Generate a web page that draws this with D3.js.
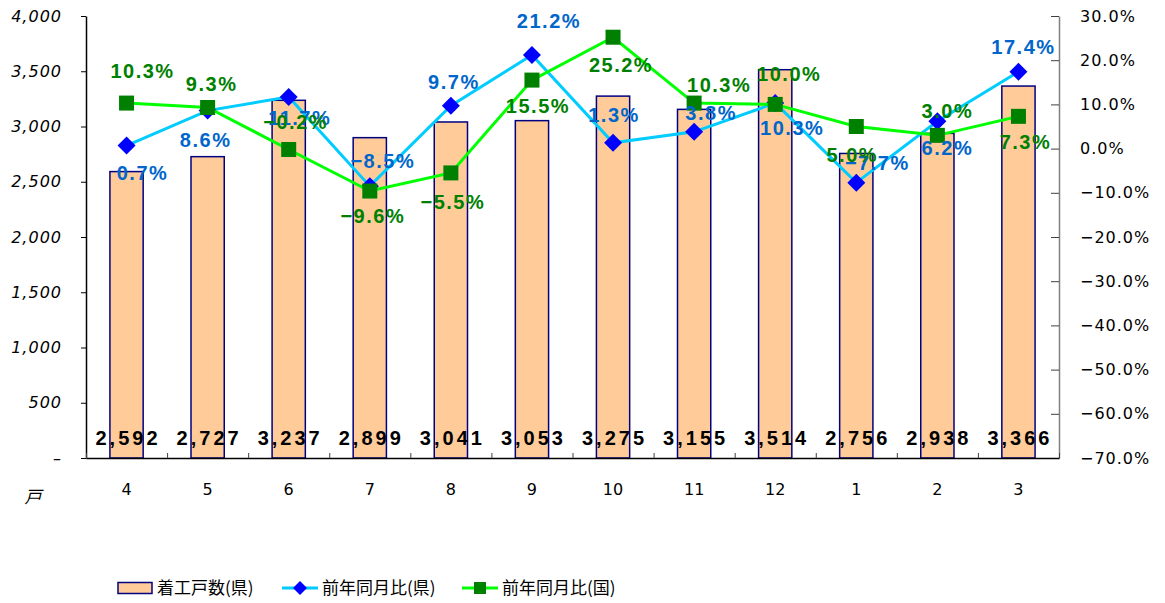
<!DOCTYPE html>
<meta charset="utf-8">
<script src="https://d3js.org/d3.v7.min.js"></script>
<style>
  body { margin: 0; background: #fff; }
</style>
<div id="chart"></div>
<script>
  // data
  const months = ["4", "5", "6", "7", "8", "9", "10", "11", "12", "1", "2", "3"];
  const starts = [2592, 2727, 3237, 2899, 3041, 3053, 3275, 3155, 3514, 2756, 2938, 3366];   // 着工戸数(県)
  const yoyPref = [0.7, 8.6, 11.7, -8.5, 9.7, 21.2, 1.3, 3.8, 10.3, -7.7, 6.2, 17.4];         // 前年同月比(県)
  const yoyNation = [10.3, 9.3, -0.2, -9.6, -5.5, 15.5, 25.2, 10.3, 10.0, 5.0, 3.0, 7.3];     // 前年同月比(国)
  const leftTicks = [0, 500, 1000, 1500, 2000, 2500, 3000, 3500, 4000];
  const rightTicks = [-70, -60, -50, -40, -30, -20, -10, 0, 10, 20, 30];

  // label nudges (dx, dy) so they sit like the original
  const prefLabelPos = [[15,27],[-3,29],[10,21],[12,-25],[2,-24],[16,-34],[0,-28],[16,-19],[16,25],[20,-20],[9,27],[4,-25]];
  const natLabelPos = [[15,-32],[3,-23],[6,-27],[2,25],[1,29],[5,26],[7,28],[24,-18],[13,-30],[-5,28],[9,-24],[6,26]];

  const margin = {top: 16, right: 106, bottom: 145, left: 86},
    width = 1165 - margin.left - margin.right,
    height = 603 - margin.top - margin.bottom;

  const svg = d3.select("#chart")
    .append("svg")
    .attr("width", 1165)
    .attr("height", 603);

  const g = svg.append("g")
    .attr("transform", `translate(${margin.left},${margin.top})`);

  const x = d3.scaleBand()
    .domain(months)
    .range([0, width])
    .paddingInner(0.59)
    .paddingOuter(0.295);

  const yL = d3.scaleLinear().domain([0, 4000]).range([height, 0]);
  const yR = d3.scaleLinear().domain([-70, 30]).range([height, 0]);

  const cx = d => x(d) + x.bandwidth() / 2;
  const labelFont = "'Liberation Sans', Arial, sans-serif";

  // bars
  g.selectAll("rect.bar")
    .data(starts)
    .join("rect")
    .attr("class", "bar")
    .attr("x", (d, i) => x(months[i]))
    .attr("y", d => yL(d))
    .attr("width", x.bandwidth())
    .attr("height", d => height - yL(d))
    .attr("fill", "#FFCC99")
    .attr("stroke", "#000080")
    .attr("stroke-width", 1.5);

  // left axis
  const fmtL = d3.format(",");
  const axL = g.append("g")
    .call(d3.axisLeft(yL).tickValues(leftTicks).tickSize(5).tickSizeOuter(0).tickPadding(19)
      .tickFormat(d => d === 0 ? "–" : fmtL(d)));
  axL.select(".domain").attr("stroke", "#000").attr("stroke-width", 1.5);
  axL.selectAll("text")
    .style("font-family", "'DejaVu Sans', sans-serif")
    .style("font-style", "italic")
    .style("font-size", "16px")
    .style("letter-spacing", "1px")
    .attr("fill", "#000");

  // right axis (ticks point inward)
  const axR = g.append("g")
    .attr("transform", `translate(${width},0)`)
    .call(d3.axisRight(yR).tickValues(rightTicks).tickSize(-8).tickSizeOuter(0).tickPadding(21)
      .tickFormat(d => d3.format(".1f")(d) + "%"));
  axR.select(".domain").attr("stroke", "#808080").attr("stroke-width", 1.5);
  axR.selectAll(".tick line").attr("stroke", "#404040");
  axR.selectAll("text")
    .style("font-family", "'DejaVu Sans', sans-serif")
    .style("font-size", "16px")
    .style("letter-spacing", "1px")
    .attr("fill", "#000");

  // bottom axis: boundary ticks + month labels
  const xEdge = d3.scaleLinear().domain([0, months.length]).range([0, width]);
  const axB = g.append("g")
    .attr("transform", `translate(0,${height})`)
    .call(d3.axisBottom(xEdge).tickValues(d3.range(0, months.length + 1)).tickSize(-5).tickSizeOuter(0).tickFormat(""));
  axB.select(".domain").attr("stroke", "#000").attr("stroke-width", 1.5);
  axB.selectAll(".tick line").attr("stroke", "#404040");

  const axM = g.append("g")
    .attr("transform", `translate(0,${height})`)
    .call(d3.axisBottom(x).tickSize(0).tickPadding(26));
  axM.select(".domain").remove();
  axM.selectAll("text")
    .style("font-family", "'DejaVu Sans', sans-serif")
    .style("font-size", "16px")
    .attr("fill", "#000");

  // unit label
  svg.append("text")
    .attr("x", 33)
    .attr("y", 497)
    .attr("text-anchor", "middle")
    .attr("dy", "0.35em")
    .style("font-family", "'Noto Sans CJK JP', sans-serif")
    .style("font-style", "italic")
    .style("font-size", "17px")
    .text("戸");

  // lines
  const lineGen = d3.line().x((d, i) => cx(months[i])).y(d => yR(d));
  g.append("path")
    .datum(yoyPref)
    .attr("d", lineGen)
    .attr("fill", "none")
    .attr("stroke", "#00CCFF")
    .attr("stroke-width", 3);

  g.selectAll("path.diamond")
    .data(yoyPref)
    .join("path")
    .attr("class", "diamond")
    .attr("transform", (d, i) => `translate(${cx(months[i])},${yR(d)})`)
    .attr("d", "M0,-9L9,0L0,9L-9,0Z")
    .attr("fill", "#0000FF");

  g.append("path")
    .datum(yoyNation)
    .attr("d", lineGen)
    .attr("fill", "none")
    .attr("stroke", "#00FF00")
    .attr("stroke-width", 3);

  g.selectAll("rect.square")
    .data(yoyNation)
    .join("rect")
    .attr("class", "square")
    .attr("x", (d, i) => cx(months[i]) - 7.5)
    .attr("y", d => yR(d) - 7.5)
    .attr("width", 15)
    .attr("height", 15)
    .attr("fill", "#008000");

  // bar value labels
  g.selectAll("text.val")
    .data(starts)
    .join("text")
    .attr("class", "val")
    .attr("x", (d, i) => cx(months[i]) + 1.5)
    .attr("y", 422)
    .attr("dy", "0.35em")
    .attr("text-anchor", "middle")
    .style("font-family", labelFont)
    .style("font-weight", "bold")
    .style("font-size", "20px")
    .style("letter-spacing", "3px")
    .attr("fill", "#000")
    .text(d => fmtL(d));

  // percentage labels
  const pct = d => d3.format(".1f")(d) + "%";
  g.selectAll("text.lp")
    .data(yoyPref)
    .join("text")
    .attr("class", "lp")
    .attr("x", (d, i) => cx(months[i]) + prefLabelPos[i][0] + 1)
    .attr("y", (d, i) => yR(d) + prefLabelPos[i][1])
    .attr("dy", "0.35em")
    .attr("text-anchor", "middle")
    .style("font-family", labelFont)
    .style("font-weight", "bold")
    .style("font-size", "20px")
    .style("letter-spacing", "1.5px")
    .attr("fill", "#0066CC")
    .text(pct);

  g.selectAll("text.ln")
    .data(yoyNation)
    .join("text")
    .attr("class", "ln")
    .attr("x", (d, i) => cx(months[i]) + natLabelPos[i][0] + 1)
    .attr("y", (d, i) => yR(d) + natLabelPos[i][1])
    .attr("dy", "0.35em")
    .attr("text-anchor", "middle")
    .style("font-family", labelFont)
    .style("font-weight", "bold")
    .style("font-size", "20px")
    .style("letter-spacing", "1.5px")
    .attr("fill", "#008000")
    .text(pct);

  // legend
  const legend = svg.append("g").attr("transform", "translate(0,588)");
  const legendFont = "'Noto Sans CJK JP', sans-serif";

  legend.append("rect")
    .attr("x", 118).attr("y", -5.5).attr("width", 34).attr("height", 11)
    .attr("fill", "#FFCC99").attr("stroke", "#000080").attr("stroke-width", 1.5);
  legend.append("text")
    .attr("x", 157).attr("dy", "0.35em")
    .style("font-family", legendFont).style("font-size", "17px")
    .text("着工戸数(県)");

  legend.append("line")
    .attr("x1", 282).attr("x2", 318)
    .attr("stroke", "#00CCFF").attr("stroke-width", 3);
  legend.append("path")
    .attr("transform", "translate(300,0)")
    .attr("d", "M0,-7L7,0L0,7L-7,0Z")
    .attr("fill", "#0000FF");
  legend.append("text")
    .attr("x", 322).attr("dy", "0.35em")
    .style("font-family", legendFont).style("font-size", "17px")
    .text("前年同月比(県)");

  legend.append("line")
    .attr("x1", 462).attr("x2", 498)
    .attr("stroke", "#00FF00").attr("stroke-width", 3);
  legend.append("rect")
    .attr("x", 474).attr("y", -6).attr("width", 12).attr("height", 12)
    .attr("fill", "#008000");
  legend.append("text")
    .attr("x", 502).attr("dy", "0.35em")
    .style("font-family", legendFont).style("font-size", "17px")
    .text("前年同月比(国)");
</script>
